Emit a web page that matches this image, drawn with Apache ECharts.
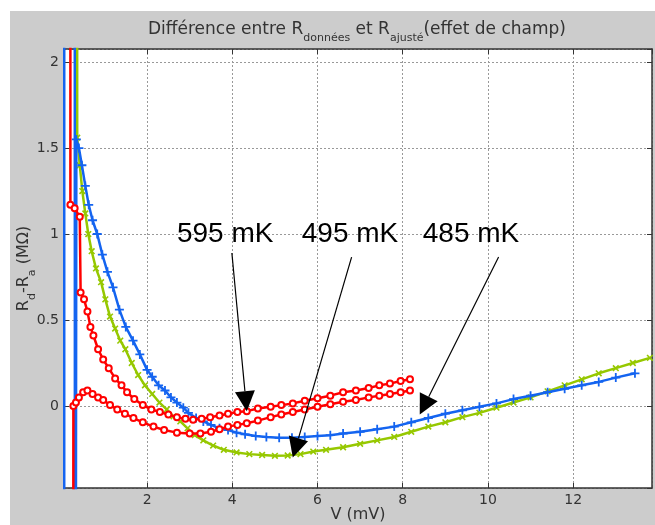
<!DOCTYPE html>
<html><head><meta charset="utf-8">
<script src="https://cdn.jsdelivr.net/npm/echarts@6/dist/echarts.min.js"></script>
<style>html,body{margin:0;padding:0;background:#fff;width:655px;height:525px;overflow:hidden}
#c{position:absolute;left:10px;top:11px;width:645px;height:514px;}</style></head>
<body><div id="c"></div>
<script>
// ---- data (V in mV, Rd - Ra in MOhm) ----
const blueV = [0.055,0.056,0.30,0.31,0.33,0.34,0.40,0.47,0.55,0.63,0.72,0.83,0.95,1.07,1.20,1.35,1.50,1.67,1.83,2.00,2.12,2.27,2.42,2.56,2.70,2.85,2.97,3.15,3.32,3.50,3.70,3.90,4.10,4.30,4.55,4.80,5.10,5.40,5.70,6.00,6.30,6.60,7.00,7.40,7.80,8.20,8.60,9.00,9.40,9.80,10.20,10.60,11.00,11.40,11.80,12.20,12.60,13.00,13.45];
const blueR = [-5,5,5,-5,-5,1.55,1.50,1.40,1.28,1.17,1.08,1.00,0.88,0.78,0.69,0.56,0.46,0.38,0.30,0.21,0.17,0.12,0.09,0.05,0.02,-0.01,-0.04,-0.07,-0.09,-0.11,-0.13,-0.14,-0.155,-0.165,-0.175,-0.18,-0.185,-0.185,-0.18,-0.175,-0.17,-0.16,-0.15,-0.135,-0.12,-0.095,-0.07,-0.045,-0.025,-0.005,0.015,0.04,0.06,0.08,0.10,0.12,0.14,0.165,0.19];
const greenV = [0.355,0.36,0.42,0.48,0.55,0.62,0.70,0.80,0.92,1.02,1.13,1.25,1.37,1.49,1.64,1.79,1.95,2.12,2.29,2.46,2.62,2.78,2.95,3.12,3.32,3.55,3.80,4.10,4.40,4.70,5.00,5.30,5.60,5.90,6.20,6.60,7.00,7.40,7.80,8.20,8.60,9.00,9.40,9.80,10.20,10.60,11.00,11.40,11.80,12.20,12.60,13.00,13.40,13.80];
const greenR = [5,1.56,1.40,1.25,1.12,1.00,0.90,0.80,0.72,0.62,0.52,0.45,0.38,0.33,0.25,0.18,0.12,0.07,0.02,-0.02,-0.06,-0.09,-0.13,-0.17,-0.20,-0.23,-0.255,-0.27,-0.28,-0.285,-0.29,-0.288,-0.28,-0.265,-0.255,-0.24,-0.22,-0.20,-0.18,-0.15,-0.12,-0.095,-0.065,-0.04,-0.01,0.02,0.05,0.085,0.12,0.155,0.19,0.22,0.25,0.28];
const redAV = [0.20,0.20,0.30,0.42,0.44,0.52,0.60,0.67,0.74,0.85,0.97,1.10,1.25,1.40,1.53,1.70,1.90,2.10,2.30,2.50,2.70,2.90,3.08,3.28,3.48,3.70,3.90,4.12,4.34,4.60,4.90,5.15,5.42,5.70,6.00,6.30,6.60,6.90,7.20,7.45,7.70,7.95,8.17];
const redAR = [5,1.17,1.15,1.10,0.66,0.62,0.55,0.46,0.41,0.33,0.27,0.22,0.16,0.12,0.08,0.04,0.005,-0.02,-0.035,-0.05,-0.065,-0.075,-0.08,-0.075,-0.065,-0.055,-0.045,-0.035,-0.03,-0.015,-0.005,0.005,0.015,0.03,0.045,0.06,0.08,0.09,0.105,0.12,0.13,0.145,0.155];
const redBV = [0.26,0.27,0.33,0.40,0.50,0.60,0.72,0.85,0.97,1.13,1.30,1.48,1.68,1.90,2.15,2.40,2.70,3.00,3.25,3.50,3.70,3.90,4.12,4.34,4.60,4.90,5.15,5.42,5.70,6.00,6.30,6.60,6.90,7.20,7.45,7.70,7.95,8.17];
const redBR = [-5,0.00,0.02,0.05,0.08,0.09,0.07,0.05,0.035,0.005,-0.02,-0.045,-0.07,-0.095,-0.12,-0.14,-0.155,-0.16,-0.16,-0.15,-0.135,-0.12,-0.11,-0.10,-0.085,-0.065,-0.05,-0.035,-0.02,-0.005,0.01,0.025,0.035,0.05,0.06,0.07,0.08,0.09];
// annotations (data coordinates)
const annLabels = ['595 mK','495 mK','485 mK'];
const annLabelPos = [[2.70,1.0],[5.63,1.0],[8.47,1.0]];
const arrowTail = [[3.99,0.89],[6.80,0.866],[10.25,0.866]];
const arrowTip = [[4.34,-0.03],[5.42,-0.30],[8.40,-0.05]];
const xMin = 0.05, xMax = 13.85, yMin = -0.477, yMax = 2.076;

const F = '"DejaVu Sans", "Liberation Sans", Arial, sans-serif';
const chart = echarts.init(document.getElementById('c'));
function zip(a,b){return a.map((v,i)=>[v,b[i]]);}
const plus = 'path://M4,0h2v4h4v2h-4v4h-2v-4h-4v-2h4z';
const axLine = {show:true,onZero:false,lineStyle:{color:'#333',width:1.5}};
const axTick = {show:true,inside:true,length:5,lineStyle:{color:'#333'}};
const grid = {left:54, top:38, width:588, height:439, containLabel:false, outerBoundsMode:'none',
  show:true, backgroundColor:'#ffffff', borderWidth:0};
const option = {
  backgroundColor:'#cccccc',
  animation:false,
  title:{
    text:'Différence entre R{s|données} et R{s|ajusté}(effet de champ)',
    left:342, top:0, textAlign:'center',
    textStyle:{fontFamily:F,fontSize:17,fontWeight:'normal',color:'#333',lineHeight:28,
      rich:{s:{fontFamily:F,fontSize:11,color:'#333',lineHeight:12,verticalAlign:'bottom'}}}
  },
  grid:grid,
  xAxis:[
    {type:'value',min:xMin,max:xMax,splitNumber:7,position:'bottom',axisLine:axLine,axisTick:axTick,
     axisLabel:{showMinLabel:false,showMaxLabel:false,fontSize:14,color:'#333',fontFamily:F,margin:5},
     splitLine:{show:true,lineStyle:{color:'#999',type:[2,2],width:1}},
     name:'V (mV)',nameLocation:'middle',nameGap:19,nameMoveOverlap:false,
     nameTextStyle:{fontSize:16,color:'#333',fontFamily:F}},
    {type:'value',min:xMin,max:xMax,splitNumber:7,position:'top',axisLine:axLine,axisTick:axTick,
     axisLabel:{show:false},splitLine:{show:false}}
  ],
  yAxis:[
    {type:'value',min:yMin,max:yMax,splitNumber:5,position:'left',axisLine:axLine,axisTick:axTick,
     axisLabel:{showMinLabel:false,showMaxLabel:false,fontSize:14,color:'#333',fontFamily:F,margin:5},
     splitLine:{show:true,lineStyle:{color:'#999',type:[2,2],width:1}},
     name:'R{s|d}-R{s|a} (MΩ)',nameLocation:'middle',nameRotate:90,nameGap:26,nameMoveOverlap:false,
     nameTextStyle:{fontSize:16,color:'#333',fontFamily:F,lineHeight:28,
       rich:{s:{fontSize:11,color:'#333',fontFamily:F,lineHeight:12,verticalAlign:'bottom'}}}},
    {type:'value',min:yMin,max:yMax,splitNumber:5,position:'right',axisLine:axLine,axisTick:axTick,
     axisLabel:{show:false},splitLine:{show:false}}
  ],
  series:[
    {type:'line',name:'495 mK',xAxisIndex:0,yAxisIndex:0,data:zip(greenV,greenR),clip:true,
     symbol:plus,symbolRotate:45,symbolSize:8,showAllSymbol:true,
     lineStyle:{color:'#96c800',width:2.5},itemStyle:{color:'#96c800'},z:3},
    {type:'line',name:'485 mK',xAxisIndex:0,yAxisIndex:0,data:zip(blueV,blueR),clip:true,
     symbol:plus,symbolSize:9,showAllSymbol:true,
     lineStyle:{color:'#1464f0',width:2.5},itemStyle:{color:'#1464f0'},z:4},
    {type:'line',name:'595 mK a',xAxisIndex:0,yAxisIndex:0,data:zip(redAV,redAR),clip:true,
     symbol:'emptyCircle',symbolSize:6,showAllSymbol:true,
     lineStyle:{color:'#ff0000',width:2.5},itemStyle:{color:'#ff0000',borderWidth:1.5},z:5},
    {type:'line',name:'595 mK b',xAxisIndex:0,yAxisIndex:0,data:zip(redBV,redBR),clip:true,
     symbol:'emptyCircle',symbolSize:6,showAllSymbol:true,
     lineStyle:{color:'#ff0000',width:2.5},itemStyle:{color:'#ff0000',borderWidth:1.5},z:5}
  ]
};
chart.setOption(option);

const P = p => chart.convertToPixel({xAxisIndex:0,yAxisIndex:0}, p);
const gfx = [];
annLabels.forEach((t,i)=>{
  const lp = P(annLabelPos[i]);
  gfx.push({type:'text',x:lp[0],y:lp[1],z:10,style:{text:t,font:'28px "Liberation Sans", Arial, sans-serif',fill:'#000',align:'left',verticalAlign:'middle'}});
  const a = P(arrowTail[i]), b = P(arrowTip[i]);
  const dx=b[0]-a[0], dy=b[1]-a[1], L=Math.hypot(dx,dy), ux=dx/L, uy=dy/L;
  const hl=20, hw=10;
  const bx=b[0]-ux*hl, by=b[1]-uy*hl;
  gfx.push({type:'line',z:10,shape:{x1:a[0],y1:a[1],x2:bx,y2:by},style:{stroke:'#000',lineWidth:1.2}});
  gfx.push({type:'polygon',z:10,shape:{points:[[b[0],b[1]],[bx-uy*hw,by+ux*hw],[bx+uy*hw,by-ux*hw]]},style:{fill:'#000'}});
});
chart.setOption({graphic:gfx});
</script></body></html>
